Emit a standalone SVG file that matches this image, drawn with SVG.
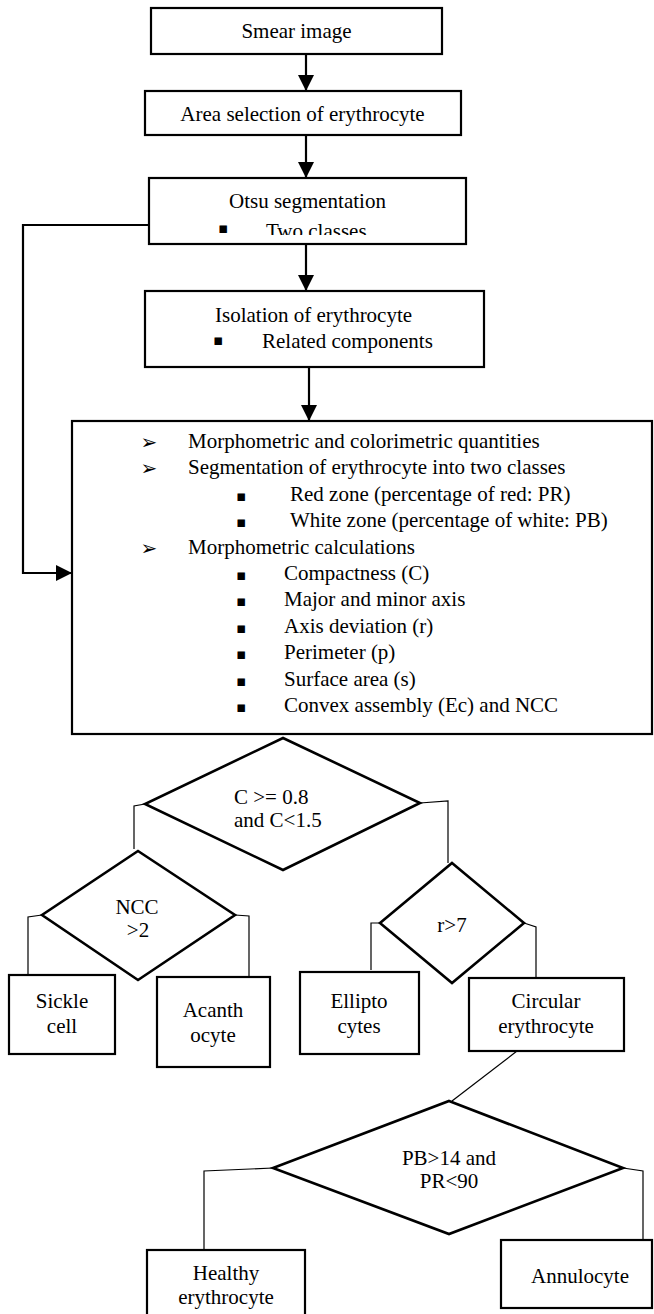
<svg xmlns="http://www.w3.org/2000/svg" width="654" height="1314" viewBox="0 0 654 1314">
<style>
  .box{fill:#fff;stroke:#000;stroke-width:2.2}
  .dia{fill:#fff;stroke:#000;stroke-width:2.6;stroke-linejoin:miter}
  .c{text-anchor:middle}
  .arr{fill:none;stroke:#000;stroke-width:2.2}
  .thin{fill:none;stroke:#000;stroke-width:1.2}
</style>
<defs>
  <marker id="ah" markerUnits="userSpaceOnUse" markerWidth="16" markerHeight="16" viewBox="0 0 16 16" refX="16" refY="8" orient="auto">
    <path d="M0,0 L16,8 L0,16 Z" fill="#000"/>
  </marker>
  <clipPath id="clipOtsu"><rect x="150" y="179" width="315" height="56"/></clipPath>
</defs>
<rect width="654" height="1314" fill="#fff"/>

<g id="connectors">
  <line class="arr" x1="306" y1="54" x2="306" y2="91" marker-end="url(#ah)"/>
  <line class="arr" x1="306" y1="135" x2="306" y2="178" marker-end="url(#ah)"/>
  <line class="arr" x1="306" y1="244" x2="306" y2="291" marker-end="url(#ah)"/>
  <line class="arr" x1="309" y1="367" x2="309" y2="421" marker-end="url(#ah)"/>
  <path class="arr" d="M149,225 H23 V573 H72" marker-end="url(#ah)"/>
  <path class="thin" d="M145,804 L134,806 V849"/>
  <path class="thin" d="M420,803 L448,801 V863"/>
  <path class="thin" d="M42,915 L28,917 V974"/>
  <path class="thin" d="M235,915 L249,916 V976"/>
  <path class="thin" d="M380,923 L371,923 V970"/>
  <path class="thin" d="M524,923 L536,927 V977"/>
  <path class="thin" d="M517,1051 L452,1101"/>
  <path class="thin" d="M273,1168 L204,1171 V1250"/>
  <path class="thin" d="M623,1168 L643,1171 V1240"/>
</g>

<g font-family="Liberation Serif, Times New Roman, serif" font-size="21" fill="#000">
<g id="smear">
  <rect class="box" x="151" y="8" width="291" height="46"/>
  <text class="c" x="296.5" y="38">Smear image</text>
</g>
<g id="area">
  <rect class="box" x="145" y="91" width="316" height="44"/>
  <text class="c" x="302.5" y="121">Area selection of erythrocyte</text>
</g>
<g id="otsu">
  <rect class="box" x="149" y="178" width="317" height="66"/>
  <text x="229" y="208">Otsu segmentation</text>
  <text x="223" y="233" font-family="DejaVu Sans, sans-serif" font-size="15" text-anchor="middle">▪</text>
  <text x="266" y="237.5" clip-path="url(#clipOtsu)">Two classes</text>
</g>
<g id="isolation">
  <rect class="box" x="145" y="291" width="339" height="76"/>
  <text x="215" y="322">Isolation of erythrocyte</text>
  <text x="218" y="345" font-family="DejaVu Sans, sans-serif" font-size="15" text-anchor="middle">▪</text>
  <text x="262" y="348">Related components</text>
</g>
<g id="features">
  <rect class="box" x="72" y="421" width="580" height="313"/>
  <g font-family="DejaVu Sans, sans-serif" font-size="20" text-anchor="middle">
    <text x="149" y="449">➢</text>
    <text x="149" y="475.4">➢</text>
    <text x="149" y="554.6">➢</text>
  </g>
  <g font-family="DejaVu Sans, sans-serif" font-size="15" text-anchor="middle">
    <text x="241" y="500.8">▪</text>
    <text x="241" y="527.2">▪</text>
    <text x="241" y="580">▪</text>
    <text x="241" y="606.4">▪</text>
    <text x="241" y="632.8">▪</text>
    <text x="241" y="659.2">▪</text>
    <text x="241" y="685.6">▪</text>
    <text x="241" y="712">▪</text>
  </g>
  <text x="188" y="448">Morphometric and colorimetric quantities</text>
  <text x="188" y="474.4">Segmentation of erythrocyte into two classes</text>
  <text x="290" y="500.8">Red zone (percentage of red: PR)</text>
  <text x="290" y="527.2">White zone (percentage of white: PB)</text>
  <text x="188" y="553.6">Morphometric calculations</text>
  <text x="284" y="580">Compactness (C)</text>
  <text x="284" y="606.4">Major and minor axis</text>
  <text x="284" y="632.8">Axis deviation (r)</text>
  <text x="284" y="659.2">Perimeter (p)</text>
  <text x="284" y="685.6">Surface area (s)</text>
  <text x="284" y="712">Convex assembly (Ec) and NCC</text>
</g>
<g id="decision-c">
  <polygon class="dia" points="283,738 420,803 283,870 145,804"/>
  <text x="234" y="804">C &gt;= 0.8</text>
  <text x="234" y="827">and C&lt;1.5</text>
</g>
<g id="decision-ncc">
  <polygon class="dia" points="138,851 235,915 138,980 42,915"/>
  <text class="c" x="137" y="914">NCC</text>
  <text class="c" x="138" y="937">&gt;2</text>
</g>
<g id="decision-r">
  <polygon class="dia" points="452,863 524,923 452,983 380,923"/>
  <text class="c" x="452" y="932">r&gt;7</text>
</g>
<g id="sickle">
  <rect class="box" x="9" y="975" width="106" height="79"/>
  <text class="c" x="62" y="1008">Sickle</text>
  <text class="c" x="62" y="1033">cell</text>
</g>
<g id="acanth">
  <rect class="box" x="157" y="977" width="113" height="90"/>
  <text class="c" x="213" y="1017">Acanth</text>
  <text class="c" x="213" y="1042">ocyte</text>
</g>
<g id="ellipto">
  <rect class="box" x="300" y="972" width="119" height="82"/>
  <text class="c" x="359" y="1008">Ellipto</text>
  <text class="c" x="359" y="1033">cytes</text>
</g>
<g id="circular">
  <rect class="box" x="469" y="978" width="155" height="73"/>
  <text class="c" x="546" y="1008">Circular</text>
  <text class="c" x="546" y="1033">erythrocyte</text>
</g>
<g id="decision-pb">
  <polygon class="dia" points="449,1101 623,1168 449,1234 273,1168"/>
  <text class="c" x="449" y="1165">PB&gt;14 and</text>
  <text class="c" x="449" y="1188">PR&lt;90</text>
</g>
<g id="healthy">
  <rect class="box" x="147" y="1250" width="158" height="80"/>
  <text class="c" x="226" y="1280">Healthy</text>
  <text class="c" x="226" y="1304">erythrocyte</text>
</g>
<g id="annulocyte">
  <rect class="box" x="501" y="1240" width="151" height="68"/>
  <text class="c" x="580" y="1283">Annulocyte</text>
</g>
</g>
</svg>
